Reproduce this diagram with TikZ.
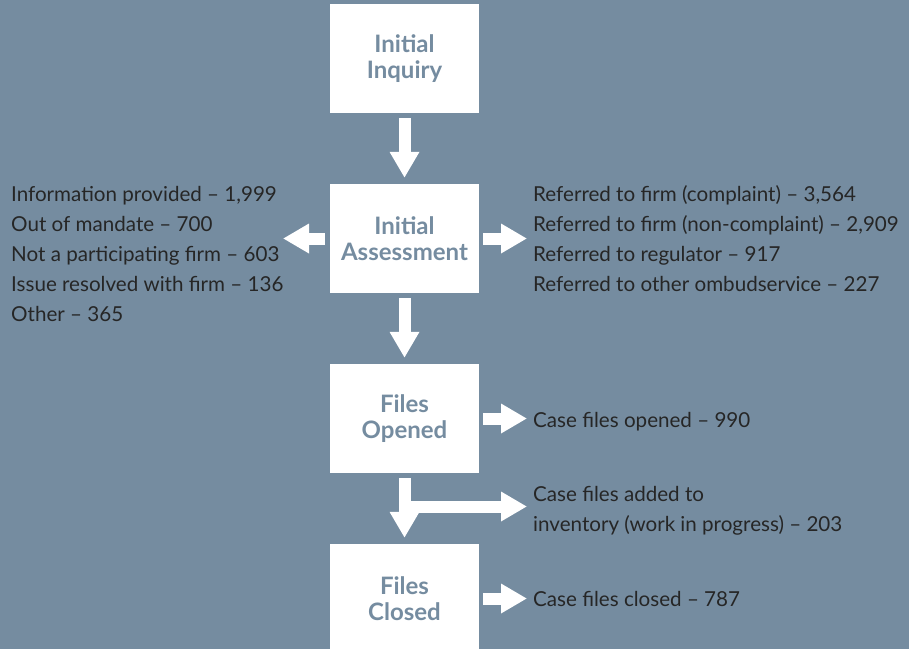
\documentclass[tikz,border=0pt]{standalone}
\usepackage{fontspec}
\setmainfont{Lato}
\usetikzlibrary{arrows.meta}
\definecolor{slate}{HTML}{758CA0}
\definecolor{ink}{HTML}{262626}
\tikzset{
  box/.style={fill=white,minimum width=149pt,minimum height=109pt,inner sep=0pt,
    align=center,text=slate,font=\fontsize{24}{26}\selectfont\bfseries},
  txt/.style={inner sep=0pt,align=left,text=ink,font=\fontsize{20.6}{30}\selectfont},
  blk/.style={white,line width=12pt,-{Triangle[length=26pt,width=28pt]}}
}

\begin{document}
\begin{tikzpicture}[x=1pt,y=-1pt]
\clip (0,0) rectangle (909,649);
\fill [slate] (0,0) rectangle (909,649);
\node [box] (inquiry) at (404.5,58.5) {Initial\\Inquiry};
\node [box] (assess) at (404.5,238.5) {Initial\\Assessment};
\node [box] (opened) at (404.5,418.5) {Files\\Opened};
\node [box] (closed) at (404.5,598.5) {Files\\Closed};
% base anchor of a multi-line node sits on its last line
\node [txt,anchor=base west] (rejected) at (11,321) {Information provided -- 1,999\\Out of mandate -- 700\\Not a participating firm -- 603\\Issue resolved with firm -- 136\\Other -- 365};
\node [txt,anchor=base west] (referred) at (533,291) {Referred to firm (complaint) -- 3,564\\Referred to firm (non-complaint) -- 2,909\\Referred to regulator -- 917\\Referred to other ombudservice -- 227};
\node [txt,anchor=base west] (opencount) at (533,427) {Case files opened -- 990};
\node [txt,anchor=base west] (inventory) at (533,531) {Case files added to\\inventory (work in progress) -- 203};
\node [txt,anchor=base west] (closecount) at (533,606) {Case files closed -- 787};
\coordinate (rejtip) at (283,238.5);
\coordinate (fork) at (404.5,506.5);
\draw [blk,shorten <=5pt,shorten >=6pt] (inquiry) -- (assess);
\draw [blk,shorten <=5pt,shorten >=6pt] (assess) -- (opened);
\draw [blk,shorten <=5pt,shorten >=6pt] (opened) -- (closed);
\draw [blk,shorten <=5pt] (assess) -- (rejtip);
\draw [blk,shorten <=4pt,shorten >=6pt] (assess) -- (assess -| referred.west);
\draw [blk,shorten <=4pt,shorten >=6pt] (opened) -- (opened -| opencount.west);
\draw [blk,shorten >=6pt] (fork) -- (fork -| inventory.west);
\draw [blk,shorten <=4pt,shorten >=6pt] (closed) -- (closed -| closecount.west);
\end{tikzpicture}
\end{document}
